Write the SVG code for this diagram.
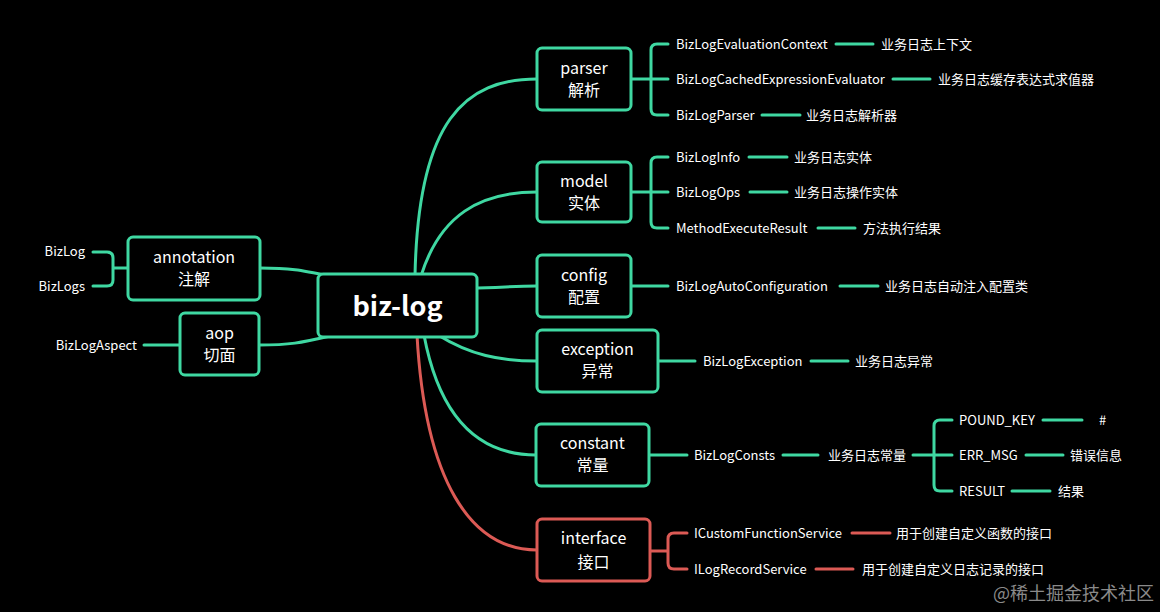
<svg xmlns="http://www.w3.org/2000/svg" width="1160" height="612" viewBox="0 0 1160 612">
<style>
.bg{fill:#000}
.g{stroke:#3fd8a2;stroke-width:3;fill:none;stroke-linecap:round;stroke-linejoin:round}
.r{stroke:#dc5a55;stroke-width:3;fill:none;stroke-linecap:round;stroke-linejoin:round}
.bx{fill:#000;stroke:#3fd8a2;stroke-width:3}
.bxr{fill:#000;stroke:#dc5a55;stroke-width:3}
text{font-family:"Microsoft YaHei","Noto Sans CJK SC",sans-serif;fill:#fff;dominant-baseline:central;transform:translateY(-1px)}
.s{font-size:13px}
.m{font-size:16px;text-anchor:middle}
.e{text-anchor:end}
.root{font-size:27px;font-weight:bold;text-anchor:middle}
.wm{font-size:18px;fill:#8a8a8a}
</style>
<rect class="bg" x="0" y="0" width="1160" height="612"/>

<g id="connectors">
  <path class="g" d="M260 268 C290 268 300 270 330 276"/>
  <path class="g" d="M259 345 C290 345 300 343 330 336"/>
  <path class="g" d="M415 276 C418 120 465 79 537 79"/>
  <path class="g" d="M421 276 C440 215 480 192 537 192"/>
  <path class="g" d="M470 288 C500 288 510 286 537 286"/>
  <path class="g" d="M438 335 C470 355 500 361 537 361"/>
  <path class="g" d="M424 335 C440 420 480 455 536 455"/>
  <path class="r" d="M417 335 C425 480 470 550 537 550"/>
</g>

<g id="root">
  <rect class="bx" x="318" y="274" width="159" height="63" rx="5"/>
  <text class="root" x="397.5" y="305">biz-log</text>
</g>

<g id="annotation">
  <path class="g" d="M128 268 H113 M93 252 H107 Q113 252 113 258 V280 Q113 286 107 286 H93"/>
  <rect class="bx" x="128" y="237" width="132" height="63" rx="5"/>
  <text class="m" x="194" y="257">annotation</text>
  <text class="m" x="194" y="279">注解</text>
  <text class="s e" x="85" y="251">BizLog</text>
  <text class="s e" x="85" y="286">BizLogs</text>
</g>

<g id="aop">
  <path class="g" d="M180 345 H144"/>
  <rect class="bx" x="180" y="313" width="79" height="62" rx="5"/>
  <text class="m" x="219.5" y="333">aop</text>
  <text class="m" x="219.5" y="355">切面</text>
  <text class="s e" x="137" y="345">BizLogAspect</text>
</g>

<g id="parser">
  <path class="g" d="M631 79 H668 M668 44 H657 Q651 44 651 50 V109 Q651 115 657 115 H668"/>
  <path class="g" d="M836 44 H873 M893 79 H930 M762 115 H800"/>
  <rect class="bx" x="537" y="48" width="94" height="62" rx="5"/>
  <text class="m" x="584" y="68">parser</text>
  <text class="m" x="584" y="90">解析</text>
  <text class="s" x="676" y="44">BizLogEvaluationContext</text>
  <text class="s" x="881" y="44">业务日志上下文</text>
  <text class="s" x="676" y="79">BizLogCachedExpressionEvaluator</text>
  <text class="s" x="938" y="79">业务日志缓存表达式求值器</text>
  <text class="s" x="676" y="115">BizLogParser</text>
  <text class="s" x="806" y="115">业务日志解析器</text>
</g>

<g id="model">
  <path class="g" d="M631 192 H668 M668 157 H657 Q651 157 651 163 V222 Q651 228 657 228 H668"/>
  <path class="g" d="M749 157 H787 M750 192 H787 M818 228 H855"/>
  <rect class="bx" x="537" y="162" width="94" height="60" rx="5"/>
  <text class="m" x="584" y="181">model</text>
  <text class="m" x="584" y="203">实体</text>
  <text class="s" x="676" y="157">BizLogInfo</text>
  <text class="s" x="794" y="157">业务日志实体</text>
  <text class="s" x="676" y="192">BizLogOps</text>
  <text class="s" x="794" y="192">业务日志操作实体</text>
  <text class="s" x="676" y="228">MethodExecuteResult</text>
  <text class="s" x="863" y="228">方法执行结果</text>
</g>

<g id="config">
  <path class="g" d="M631 286 H668 M840 286 H878"/>
  <rect class="bx" x="537" y="255" width="94" height="62" rx="5"/>
  <text class="m" x="584" y="275">config</text>
  <text class="m" x="584" y="297">配置</text>
  <text class="s" x="676" y="286">BizLogAutoConfiguration</text>
  <text class="s" x="885" y="286">业务日志自动注入配置类</text>
</g>

<g id="exception">
  <path class="g" d="M658 361 H695 M811 361 H848"/>
  <rect class="bx" x="537" y="330" width="121" height="62" rx="5"/>
  <text class="m" x="597.5" y="349">exception</text>
  <text class="m" x="597.5" y="371">异常</text>
  <text class="s" x="703" y="361">BizLogException</text>
  <text class="s" x="855" y="361">业务日志异常</text>
</g>

<g id="constant">
  <path class="g" d="M649 455 H687 M783 455 H818 M913 455 H952 M952 420 H940 Q934 420 934 426 V485 Q934 491 940 491 H952"/>
  <path class="g" d="M1043 420 H1082 M1026 455 H1063 M1012 491 H1050"/>
  <rect class="bx" x="536" y="424" width="113" height="62" rx="5"/>
  <text class="m" x="592.5" y="443">constant</text>
  <text class="m" x="592.5" y="465">常量</text>
  <text class="s" x="694" y="455">BizLogConsts</text>
  <text class="s" x="828" y="455">业务日志常量</text>
  <text class="s" x="959" y="420">POUND_KEY</text>
  <text class="s" x="1099" y="420">#</text>
  <text class="s" x="959" y="455">ERR_MSG</text>
  <text class="s" x="1070" y="455">错误信息</text>
  <text class="s" x="959" y="491">RESULT</text>
  <text class="s" x="1058" y="491">结果</text>
</g>

<g id="interface">
  <path class="r" d="M650 551 H668 M687 533 H674 Q668 533 668 539 V563 Q668 569 674 569 H687"/>
  <path class="r" d="M852 533 H890 M816 569 H853"/>
  <rect class="bxr" x="537" y="519" width="113" height="62" rx="5"/>
  <text class="m" x="593.5" y="538">interface</text>
  <text class="m" x="593.5" y="562">接口</text>
  <text class="s" x="694" y="533">ICustomFunctionService</text>
  <text class="s" x="896" y="533">用于创建自定义函数的接口</text>
  <text class="s" x="694" y="569">ILogRecordService</text>
  <text class="s" x="862" y="569">用于创建自定义日志记录的接口</text>
</g>

<text class="wm" x="993" y="593">@稀土掘金技术社区</text>
</svg>
